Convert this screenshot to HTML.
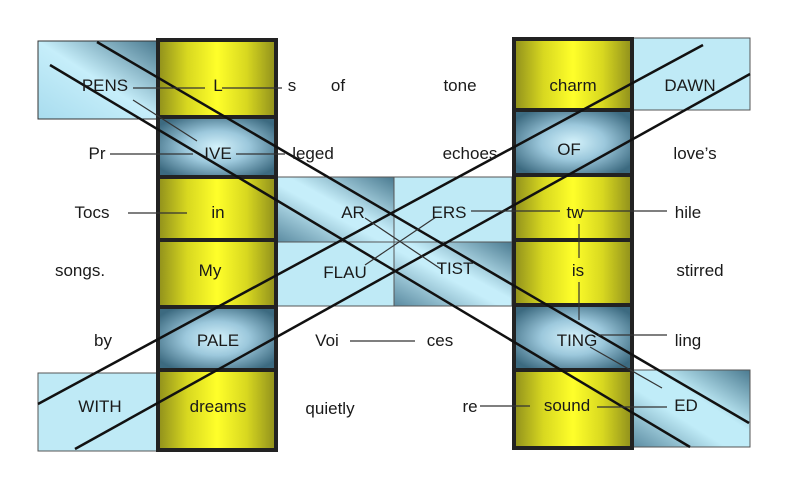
<!DOCTYPE html>
<html><head><meta charset="utf-8"><style>
html,body{margin:0;padding:0;background:#fff;}
svg{display:block;}
text{font-family:"Liberation Sans",Arial,sans-serif;font-size:17px;fill:#1a1a1a;text-anchor:middle;}
</style></head><body>
<svg width="800" height="481" viewBox="0 0 800 481" xmlns="http://www.w3.org/2000/svg">
<defs>
<linearGradient id="yel" x1="0" y1="0" x2="1" y2="0">
<stop offset="0" stop-color="#8f8f1c"/><stop offset="0.25" stop-color="#d8d820"/><stop offset="0.5" stop-color="#ffff2a"/><stop offset="0.75" stop-color="#d8d820"/><stop offset="1" stop-color="#8f8f1c"/></linearGradient>
<radialGradient id="stl" cx="0.5" cy="0.5" r="0.6">
<stop offset="0" stop-color="#d4f2fb"/><stop offset="0.45" stop-color="#9cc8dc"/><stop offset="1" stop-color="#3c6a80"/></radialGradient>
<linearGradient id="pens" x1="0" y1="1" x2="1" y2="0">
<stop offset="0" stop-color="#a8dcee"/><stop offset="0.5" stop-color="#c6eefa"/><stop offset="1" stop-color="#4a7a90"/></linearGradient>
<linearGradient id="ed" x1="0" y1="1" x2="1" y2="0">
<stop offset="0" stop-color="#5a8aa0"/><stop offset="0.4" stop-color="#c0ecf8"/><stop offset="0.6" stop-color="#c0ecf8"/><stop offset="1" stop-color="#4a7a90"/></linearGradient>
<linearGradient id="ar" x1="0" y1="1" x2="1" y2="0">
<stop offset="0" stop-color="#5a8aa0"/><stop offset="0.45" stop-color="#c6eefa"/><stop offset="0.55" stop-color="#c6eefa"/><stop offset="1" stop-color="#4a7a90"/></linearGradient>
</defs>
<rect x="38" y="41" width="120" height="78" fill="url(#pens)" stroke="#333" stroke-width="1"/>
<rect x="630" y="38" width="120" height="72" fill="#bfeaf6" stroke="#555" stroke-width="1"/>
<rect x="38" y="373" width="120" height="78" fill="#bfeaf6" stroke="#555" stroke-width="1"/>
<rect x="630" y="370" width="120" height="77" fill="url(#ed)" stroke="#555" stroke-width="1"/>
<rect x="276" y="177" width="118" height="65" fill="url(#ar)"/>
<rect x="394" y="177" width="118" height="65" fill="#bfeaf6"/>
<rect x="276" y="242" width="118" height="64" fill="#bfeaf6"/>
<rect x="394" y="242" width="118" height="64" fill="url(#ar)"/>
<rect x="276" y="177" width="236" height="129" fill="none" stroke="#555" stroke-width="1"/>
<line x1="276" y1="242" x2="512" y2="242" stroke="#555" stroke-width="1"/>
<line x1="394" y1="177" x2="394" y2="306" stroke="#555" stroke-width="1"/>
<g stroke="#222" stroke-width="4">
<rect x="158" y="40" width="118" height="77" fill="url(#yel)"/>
<rect x="158" y="117" width="118" height="60" fill="url(#stl)"/>
<rect x="158" y="177" width="118" height="63" fill="url(#yel)"/>
<rect x="158" y="240" width="118" height="67" fill="url(#yel)"/>
<rect x="158" y="307" width="118" height="63" fill="url(#stl)"/>
<rect x="158" y="370" width="118" height="80" fill="url(#yel)"/>
<rect x="514" y="39" width="118" height="71" fill="url(#yel)"/>
<rect x="514" y="110" width="118" height="65" fill="url(#stl)"/>
<rect x="514" y="175" width="118" height="65" fill="url(#yel)"/>
<rect x="514" y="240" width="118" height="65" fill="url(#yel)"/>
<rect x="514" y="305" width="118" height="65" fill="url(#stl)"/>
<rect x="514" y="370" width="118" height="78" fill="url(#yel)"/>
</g>
<g stroke="#111" stroke-width="2.5">
<line x1="97" y1="42" x2="749" y2="423"/>
<line x1="50" y1="65" x2="690" y2="447"/>
<line x1="38" y1="404" x2="703" y2="45"/>
<line x1="75" y1="449" x2="750" y2="74"/>
</g>
<g stroke="#333" stroke-width="1.2">
<line x1="133" y1="88" x2="205" y2="88"/>
<line x1="222" y1="88" x2="282" y2="88"/>
<line x1="133" y1="100" x2="197" y2="141"/>
<line x1="110" y1="154" x2="193" y2="154"/>
<line x1="236" y1="154" x2="285" y2="154"/>
<line x1="128" y1="213" x2="187" y2="213"/>
<line x1="365" y1="218" x2="441" y2="269"/>
<line x1="436" y1="217" x2="365" y2="265"/>
<line x1="471" y1="211" x2="560" y2="211"/>
<line x1="583" y1="211" x2="667" y2="211"/>
<line x1="579" y1="224" x2="579" y2="258"/>
<line x1="579" y1="282" x2="579" y2="320"/>
<line x1="598" y1="335" x2="667" y2="335"/>
<line x1="590" y1="347" x2="662" y2="388"/>
<line x1="597" y1="407" x2="667" y2="407"/>
<line x1="480" y1="406" x2="530" y2="406"/>
<line x1="350" y1="341" x2="415" y2="341"/>
</g>
<text x="105" y="91">PENS</text><text x="218" y="91">L</text><text x="292" y="91">s</text><text x="338" y="91">of</text><text x="460" y="91">tone</text><text x="573" y="91">charm</text><text x="690" y="91">DAWN</text>
<text x="97" y="159">Pr</text><text x="218" y="159">IVE</text><text x="313" y="159">leged</text><text x="470" y="159">echoes</text><text x="569" y="155">OF</text><text x="695" y="159">love’s</text>
<text x="92" y="218">Tocs</text><text x="218" y="218">in</text><text x="353" y="218">AR</text><text x="449" y="218">ERS</text><text x="575" y="218">tw</text><text x="688" y="218">hile</text>
<text x="80" y="276">songs.</text><text x="210" y="276">My</text><text x="345" y="278">FLAU</text><text x="455" y="274">TIST</text><text x="578" y="276">is</text><text x="700" y="276">stirred</text>
<text x="103" y="346">by</text><text x="218" y="346">PALE</text><text x="327" y="346">Voi</text><text x="440" y="346">ces</text><text x="577" y="346">TING</text><text x="688" y="346">ling</text>
<text x="100" y="412">WITH</text><text x="218" y="412">dreams</text><text x="330" y="414">quietly</text><text x="470" y="412">re</text><text x="567" y="411">sound</text><text x="686" y="411">ED</text>
</svg>
</body></html>
